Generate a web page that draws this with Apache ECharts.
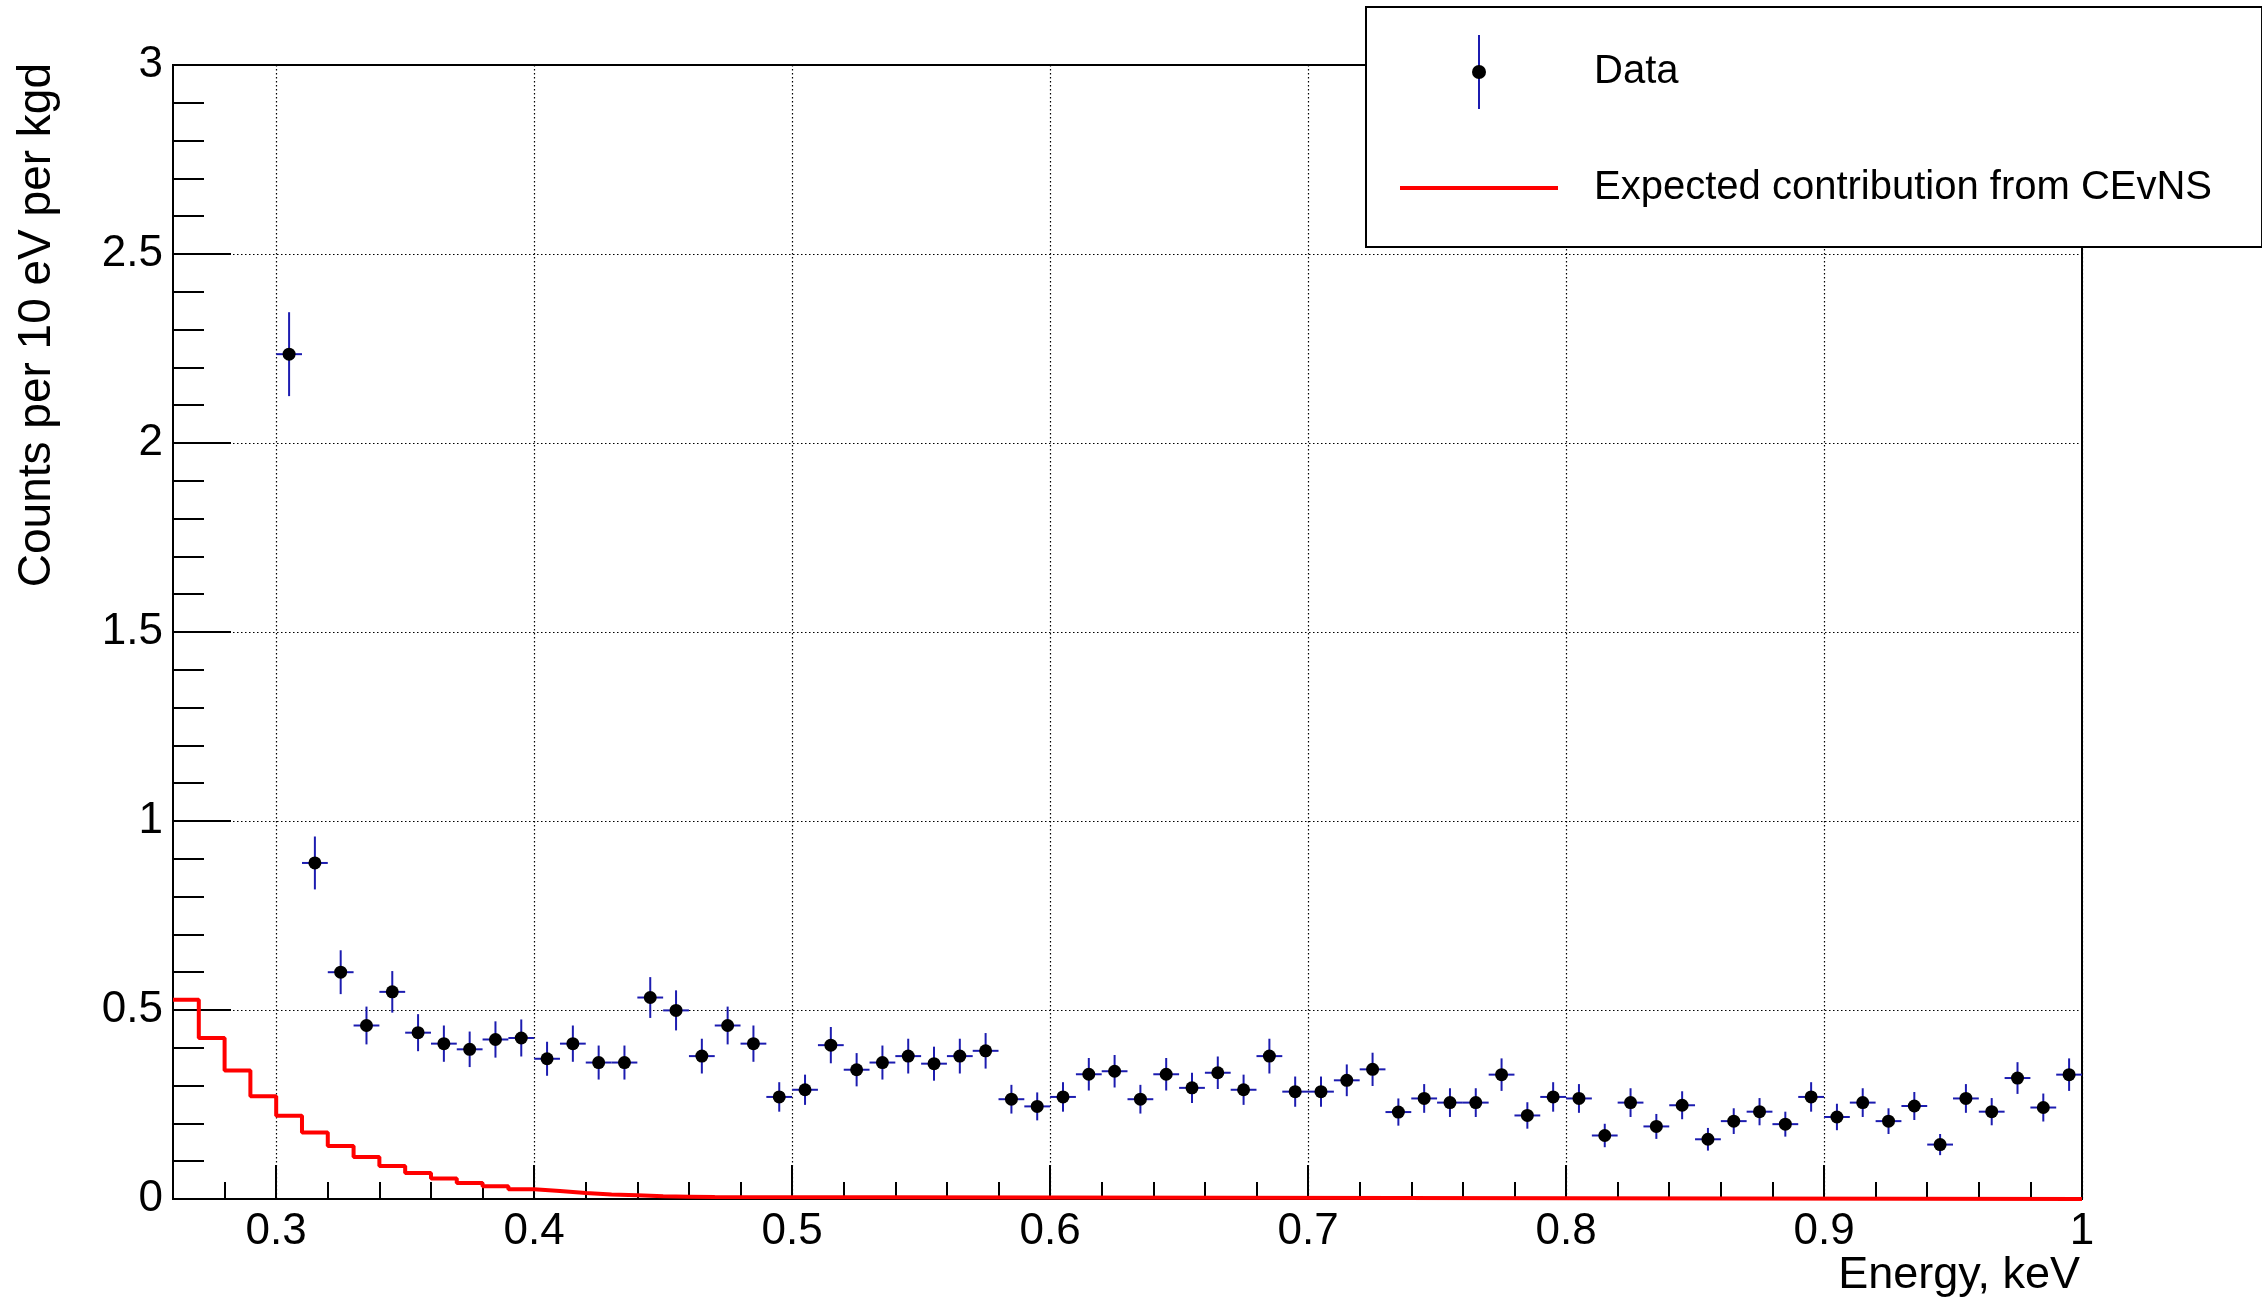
<!DOCTYPE html>
<html>
<head>
<meta charset="utf-8">
<script src="https://cdn.jsdelivr.net/npm/echarts@6/dist/echarts.min.js"></script>
<style>
  html, body { margin: 0; padding: 0; background: #fff; }
  #chart { width: 2262px; height: 1300px; }
</style>
</head>
<body>
<div id="chart"></div>
<script>
// bin centres, keV (10 eV bins)
const energy = [
  0.305, 0.315, 0.325, 0.335, 0.345, 0.355, 0.365, 0.375, 0.385, 0.395,
  0.405, 0.415, 0.425, 0.435, 0.445, 0.455, 0.465, 0.475, 0.485, 0.495,
  0.505, 0.515, 0.525, 0.535, 0.545, 0.555, 0.565, 0.575, 0.585, 0.595,
  0.605, 0.615, 0.625, 0.635, 0.645, 0.655, 0.665, 0.675, 0.685, 0.695,
  0.705, 0.715, 0.725, 0.735, 0.745, 0.755, 0.765, 0.775, 0.785, 0.795,
  0.805, 0.815, 0.825, 0.835, 0.845, 0.855, 0.865, 0.875, 0.885, 0.895,
  0.905, 0.915, 0.925, 0.935, 0.945, 0.955, 0.965, 0.975, 0.985, 0.995
];
// counts per 10 eV per kgd
const counts = [
  2.235, 0.889, 0.600, 0.459, 0.548, 0.440, 0.411, 0.396, 0.422, 0.426,
  0.371, 0.411, 0.361, 0.361, 0.533, 0.499, 0.378, 0.459, 0.411, 0.270,
  0.289, 0.407, 0.342, 0.361, 0.378, 0.358, 0.378, 0.392, 0.264, 0.245,
  0.270, 0.330, 0.338, 0.264, 0.330, 0.294, 0.334, 0.289, 0.378, 0.284,
  0.284, 0.314, 0.343, 0.230, 0.266, 0.255, 0.255, 0.329, 0.221, 0.270,
  0.266, 0.168, 0.255, 0.192, 0.248, 0.158, 0.206, 0.231, 0.198, 0.270,
  0.217, 0.255, 0.206, 0.246, 0.144, 0.266, 0.231, 0.320, 0.242, 0.329
];
const countErrors = [
  0.111, 0.070, 0.058, 0.050, 0.055, 0.049, 0.048, 0.047, 0.048, 0.049,
  0.045, 0.048, 0.045, 0.045, 0.054, 0.053, 0.046, 0.050, 0.048, 0.039,
  0.040, 0.048, 0.044, 0.045, 0.046, 0.045, 0.046, 0.047, 0.038, 0.037,
  0.039, 0.043, 0.043, 0.038, 0.043, 0.040, 0.043, 0.040, 0.046, 0.040,
  0.040, 0.042, 0.044, 0.036, 0.038, 0.038, 0.038, 0.043, 0.035, 0.039,
  0.038, 0.031, 0.038, 0.033, 0.037, 0.030, 0.034, 0.036, 0.033, 0.039,
  0.035, 0.038, 0.034, 0.037, 0.028, 0.038, 0.036, 0.042, 0.037, 0.043
];
const binWidth = 0.01;

// CEvNS expectation: bin left edges and contents
const cevnsEdges = [
  0.26, 0.27, 0.28, 0.29, 0.30, 0.31, 0.32, 0.33, 0.34, 0.35, 0.36,
  0.37, 0.38, 0.39, 0.40, 0.41, 0.42, 0.43, 0.44, 0.45, 0.46, 0.47, 1.0
];
const cevnsCounts = [
  0.527, 0.426, 0.340, 0.272, 0.220, 0.176, 0.140, 0.111, 0.087, 0.069, 0.054,
  0.042, 0.034, 0.026, 0.021, 0.016, 0.012, 0.010, 0.007, 0.006, 0.005, 0, 0
];

const xMajorTicks = [0.3, 0.4, 0.5, 0.6, 0.7, 0.8, 0.9, 1.0];

const FONT = 'Liberation Sans, Arial, Helvetica, sans-serif';
const errColor = '#1c1cb0';

const svgIcon = (body) => 'image://data:image/svg+xml;utf8,' + encodeURIComponent(
  '<svg xmlns="http://www.w3.org/2000/svg" width="189" height="74" viewBox="0 0 189 74">' + body + '</svg>');
const dataIcon = svgIcon('<line x1="79" y1="0" x2="79" y2="74" stroke="' + errColor + '" stroke-width="2"/><circle cx="79" cy="37" r="7" fill="#000"/>');
const lineIcon = svgIcon('<line x1="0" y1="37" x2="158" y2="37" stroke="#ff0000" stroke-width="4"/>');

const chart = echarts.init(document.getElementById('chart'));

const option = {
  animation: false,
  backgroundColor: '#fff',
  textStyle: { fontFamily: FONT },
  grid: {
    left: 173, right: 180, top: 65, bottom: 101,
    show: true, borderColor: '#000', borderWidth: 2,
    containLabel: false, outerBoundsMode: 'none'
  },
  legend: {
    left: 1366, top: 7,
    orient: 'vertical',
    selectedMode: false,
    backgroundColor: '#fff',
    borderColor: '#000', borderWidth: 2,
    padding: [28, 50, 22, 34],
    itemWidth: 189, itemHeight: 74, itemGap: 42,
    textStyle: { fontSize: 40, fontFamily: FONT, color: '#000' },
    data: [
      { name: 'Data', icon: dataIcon },
      { name: 'Expected contribution from CEvNS', icon: lineIcon }
    ],
    z: 10
  },
  xAxis: [{
    type: 'value', min: 0.26, max: 1.0,
    axisLine: { show: true, onZero: false, lineStyle: { color: '#000', width: 2 } },
    axisTick: { show: true, inside: true, length: 34, customValues: xMajorTicks,
      lineStyle: { color: '#000', width: 2 } },
    axisLabel: { customValues: xMajorTicks, fontSize: 44, fontFamily: FONT, color: '#000', margin: 11 },
    splitLine: { show: true, lineStyle: { color: '#000', width: 1.2, type: [1.5, 2.5] } },
    minorTick: { show: false }
  }, {
    // minor ticks, every 0.02 keV
    type: 'value', min: 0.26, max: 1.0, interval: 0.02, position: 'bottom',
    axisLine: { show: false },
    axisTick: { show: true, inside: true, length: 17, lineStyle: { color: '#000', width: 2 } },
    axisLabel: { show: false },
    splitLine: { show: false }
  }],
  yAxis: {
    type: 'value', min: 0, max: 3, interval: 0.5,
    axisLine: { show: true, onZero: false, lineStyle: { color: '#000', width: 2 } },
    axisTick: { show: true, inside: true, length: 58, lineStyle: { color: '#000', width: 2 } },
    minorTick: { show: true, splitNumber: 5, length: 31, lineStyle: { color: '#000', width: 2 } },
    axisLabel: { fontSize: 44, fontFamily: FONT, color: '#000', margin: 10 },
    splitLine: { show: true, lineStyle: { color: '#000', width: 1.2, type: [1.5, 2.5] } }
  },
  graphic: [{
    type: 'text', x: 2080, y: 1276,
    style: { text: 'Energy, keV', font: '45px ' + FONT, fill: '#000', align: 'right', verticalAlign: 'middle' }
  }, {
    type: 'text', x: 37, y: 63, rotation: Math.PI / 2,
    style: { text: 'Counts per 10 eV per kgd', font: '46px ' + FONT, fill: '#000', align: 'right', verticalAlign: 'middle' }
  }],
  series: [{
    name: 'errors',
    type: 'custom',
    z: 3,
    data: energy.map((e, i) => [e, counts[i], countErrors[i]]),
    renderItem: (params, api) => {
      const x = api.value(0), y = api.value(1), err = api.value(2);
      const top = api.coord([x, y + err]);
      const bot = api.coord([x, y - err]);
      const lft = api.coord([x - binWidth / 2, y]);
      const rgt = api.coord([x + binWidth / 2, y]);
      const st = { stroke: errColor, lineWidth: 2 };
      return {
        type: 'group',
        children: [
          { type: 'line', shape: { x1: top[0], y1: top[1], x2: bot[0], y2: bot[1] }, style: st },
          { type: 'line', shape: { x1: lft[0], y1: lft[1], x2: rgt[0], y2: rgt[1] }, style: st }
        ]
      };
    }
  }, {
    name: 'Data',
    type: 'scatter',
    z: 4,
    symbol: 'circle',
    symbolSize: 13,
    itemStyle: { color: '#000', opacity: 1 },
    data: energy.map((e, i) => [e, counts[i]])
  }, {
    name: 'Expected contribution from CEvNS',
    type: 'line',
    z: 5,
    step: 'end',
    clip: false,
    showSymbol: false,
    symbol: 'none',
    lineStyle: { color: '#ff0000', width: 4 },
    itemStyle: { color: '#ff0000' },
    data: cevnsEdges.map((e, i) => [e, cevnsCounts[i]])
  }]
};

chart.setOption(option);
</script>
</body>
</html>
